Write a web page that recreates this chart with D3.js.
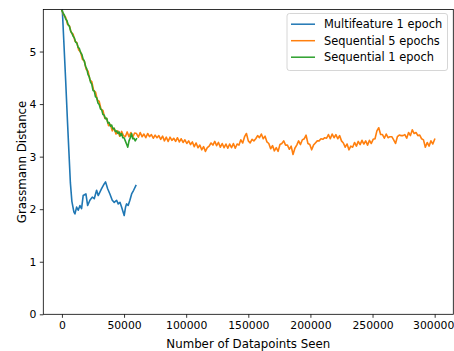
<!DOCTYPE html>
<html>
<head>
<meta charset="utf-8">
<script src="https://cdn.jsdelivr.net/npm/d3@7"></script>
<style>
  html, body { margin: 0; padding: 0; background: #fff; }
  svg { display: block; }
  text { font-family: "DejaVu Sans", sans-serif; }
</style>
</head>
<body>
<svg id="chart" width="454" height="351"></svg>
<script>
// ---- data ----
const seriesNames = ["Multifeature 1 epoch", "Sequential 5 epochs", "Sequential 1 epoch"];
const seriesColors = ["#1f77b4", "#ff7f0e", "#2ca02c"];

const blueX = [0, 1500, 3000, 4500, 5600, 6800, 8000, 9600, 10500, 11800, 13100, 14500, 15800, 17100,
  19300, 20700, 22500, 24400, 26000, 27900, 29200, 31900, 34000, 35100, 36800, 38600, 40500, 42100,
  44000, 45300, 46700, 48000, 49300, 50100, 51200, 52000, 53300, 54700, 56100, 57700, 59500];
const blueY = [5.95, 5.20, 4.45, 3.65, 3.10, 2.50, 2.15, 1.95, 1.91, 2.04, 1.98, 2.07, 2.01, 2.26,
  2.29, 2.07, 2.17, 2.23, 2.20, 2.36, 2.26, 2.39, 2.48, 2.52, 2.39, 2.29, 2.17, 2.13,
  2.17, 2.10, 2.13, 2.04, 1.94, 1.88, 2.04, 2.10, 2.07, 2.17, 2.29, 2.36, 2.45];

// Sequential 5 epochs: one value every 1500 datapoints, 0 .. 300000
const orangeStep = 1500;
const orangeY = [
  5.78, 5.69, 5.65, 5.52, 5.49, 5.36, 5.33, 5.20, 5.17, 5.03,
  4.99, 4.85, 4.82, 4.66, 4.63, 4.46, 4.43, 4.26, 4.23, 4.08,
  4.05, 3.90, 3.88, 3.73, 3.73, 3.59, 3.61, 3.49, 3.54, 3.43,
  3.49, 3.39, 3.48, 3.40, 3.38, 3.47, 3.38, 3.46, 3.37, 3.45,
  3.44, 3.37, 3.46, 3.38, 3.43, 3.36, 3.44, 3.38, 3.42, 3.35,
  3.41, 3.36, 3.40, 3.33, 3.39, 3.30, 3.37, 3.29, 3.37, 3.31,
  3.35, 3.29, 3.36, 3.28, 3.34, 3.27, 3.32, 3.25, 3.30, 3.23,
  3.28, 3.19, 3.26, 3.17, 3.22, 3.13, 3.19, 3.10, 3.17, 3.20,
  3.26, 3.22, 3.29, 3.21, 3.27, 3.18, 3.25, 3.17, 3.24, 3.16,
  3.24, 3.17, 3.25, 3.16, 3.24, 3.22, 3.32, 3.26, 3.38, 3.44,
  3.30, 3.26, 3.33, 3.30, 3.34, 3.40, 3.36, 3.43, 3.34, 3.39,
  3.28, 3.25, 3.15, 3.21, 3.11, 3.17, 3.10, 3.23, 3.25, 3.30,
  3.22, 3.22, 3.14, 3.20, 3.04, 3.16, 3.22, 3.30, 3.23, 3.32,
  3.34, 3.41, 3.25, 3.23, 3.13, 3.22, 3.26, 3.30, 3.30, 3.34,
  3.33, 3.36, 3.35, 3.42, 3.34, 3.43, 3.36, 3.42, 3.34, 3.40,
  3.30, 3.26, 3.18, 3.24, 3.13, 3.20, 3.18, 3.27, 3.20, 3.29,
  3.23, 3.31, 3.24, 3.30, 3.22, 3.31, 3.25, 3.33, 3.34, 3.49,
  3.55, 3.42, 3.42, 3.35, 3.43, 3.36, 3.38, 3.38, 3.32, 3.25,
  3.38, 3.41, 3.40, 3.40, 3.42, 3.35, 3.46, 3.40, 3.51, 3.44,
  3.46, 3.40, 3.41, 3.34, 3.32, 3.18, 3.27, 3.20, 3.30, 3.24,
  3.33
];

// Sequential 1 epoch: one value every 1000 datapoints, 0 .. 60000
const greenStep = 1000;
const greenY = [
  5.78, 5.73, 5.69, 5.62, 5.59, 5.51, 5.48, 5.39, 5.35, 5.29,
  5.26, 5.18, 5.16, 5.08, 5.06, 4.98, 4.95, 4.86, 4.82, 4.72,
  4.67, 4.56, 4.52, 4.42, 4.38, 4.26, 4.25, 4.14, 4.12, 4.02,
  3.99, 3.91, 3.89, 3.80, 3.79, 3.72, 3.73, 3.64, 3.65, 3.58,
  3.60, 3.53, 3.54, 3.48, 3.49, 3.44, 3.47, 3.40, 3.44, 3.36,
  3.36, 3.30, 3.24, 3.18, 3.30, 3.36, 3.44, 3.34, 3.35, 3.30, 3.34
];

const xTicks = [0, 50000, 100000, 150000, 200000, 250000, 300000];
const yTicks = [0, 1, 2, 3, 4, 5];
const xLabel = "Number of Datapoints Seen";
const yLabel = "Grassmann Distance";

// ---- build series ----
const blue = blueX.map((x, i) => [x, blueY[i]]);
const orange = orangeY.map((v, i) => [i * orangeStep, v]);
const green = greenY.map((v, i) => [i * greenStep, v]);
const series = [blue, orange, green];

// ---- layout ----
const FS_TICK = "10.8px", FS_LABEL = "11.8px", FS_LEG = "11.4px";
const svg = d3.select("#chart");
const L = 43.3, R = 453.3, T = 9.5, B = 314.3;

const x = d3.scaleLinear().domain([-15000, 315000]).range([L, R]);
const y = d3.scaleLinear().domain([0, 5.8]).range([B, T]);

svg.append("defs").append("clipPath").attr("id", "clip")
  .append("rect").attr("x", L).attr("y", T).attr("width", R - L).attr("height", B - T);

const line = d3.line().x(d => x(d[0])).y(d => y(d[1]));

const g = svg.append("g").attr("clip-path", "url(#clip)");
series.forEach((s, i) => {
  g.append("path").datum(s)
    .attr("d", line)
    .attr("fill", "none")
    .attr("stroke", seriesColors[i])
    .attr("stroke-width", 1.6)
    .attr("stroke-linejoin", "round")
    .attr("stroke-linecap", "square");
});

// axes
const xAxis = d3.axisBottom(x).tickValues(xTicks).tickFormat(d3.format("d")).tickSize(3.5).tickPadding(3.5);
const yAxis = d3.axisLeft(y).tickValues(yTicks).tickFormat(d3.format("d")).tickSize(3.5).tickPadding(3.5);

const gx = svg.append("g").attr("transform", `translate(0,${B})`).call(xAxis);
const gy = svg.append("g").attr("transform", `translate(${L},0)`).call(yAxis);
[gx, gy].forEach(a => {
  a.select(".domain").remove();
  a.selectAll(".tick line").attr("stroke", "#000").attr("stroke-width", 0.8);
  a.selectAll(".tick text").attr("fill", "#000").style("font-size", FS_TICK)
    .style("font-family", "'DejaVu Sans', sans-serif");
});
// keep the last x tick label inside the picture
gx.selectAll(".tick text").filter(d => d === 300000).attr("dx", "-1.5");

// frame
svg.append("rect").attr("x", L).attr("y", T).attr("width", R - L).attr("height", B - T)
  .attr("fill", "none").attr("stroke", "#000").attr("stroke-width", 0.8);

// labels
svg.append("text").attr("x", (L + R) / 2).attr("y", 347.5)
  .attr("text-anchor", "middle").style("font-size", FS_LABEL).attr("fill", "#000").text(xLabel);
svg.append("text").attr("transform", `translate(25.5,${(T + B) / 2}) rotate(-90)`)
  .attr("text-anchor", "middle").style("font-size", FS_LABEL).attr("fill", "#000").text(yLabel);

// legend
const lg = svg.append("g");
lg.append("rect").attr("x", 287).attr("y", 13.5).attr("width", 160.5).attr("height", 57)
  .attr("rx", 2.5).attr("fill", "#fff").attr("fill-opacity", 0.8)
  .attr("stroke", "#cccccc").attr("stroke-width", 0.8);
const rowY = [24.2, 40.7, 57.2];
seriesNames.forEach((name, i) => {
  lg.append("line").attr("x1", 291).attr("x2", 315).attr("y1", rowY[i]).attr("y2", rowY[i])
    .attr("stroke", seriesColors[i]).attr("stroke-width", 1.5);
  lg.append("text").attr("x", 324).attr("y", rowY[i]).attr("dy", "0.36em")
    .style("font-size", FS_LEG).attr("fill", "#000").text(name);
});
</script>
</body>
</html>
